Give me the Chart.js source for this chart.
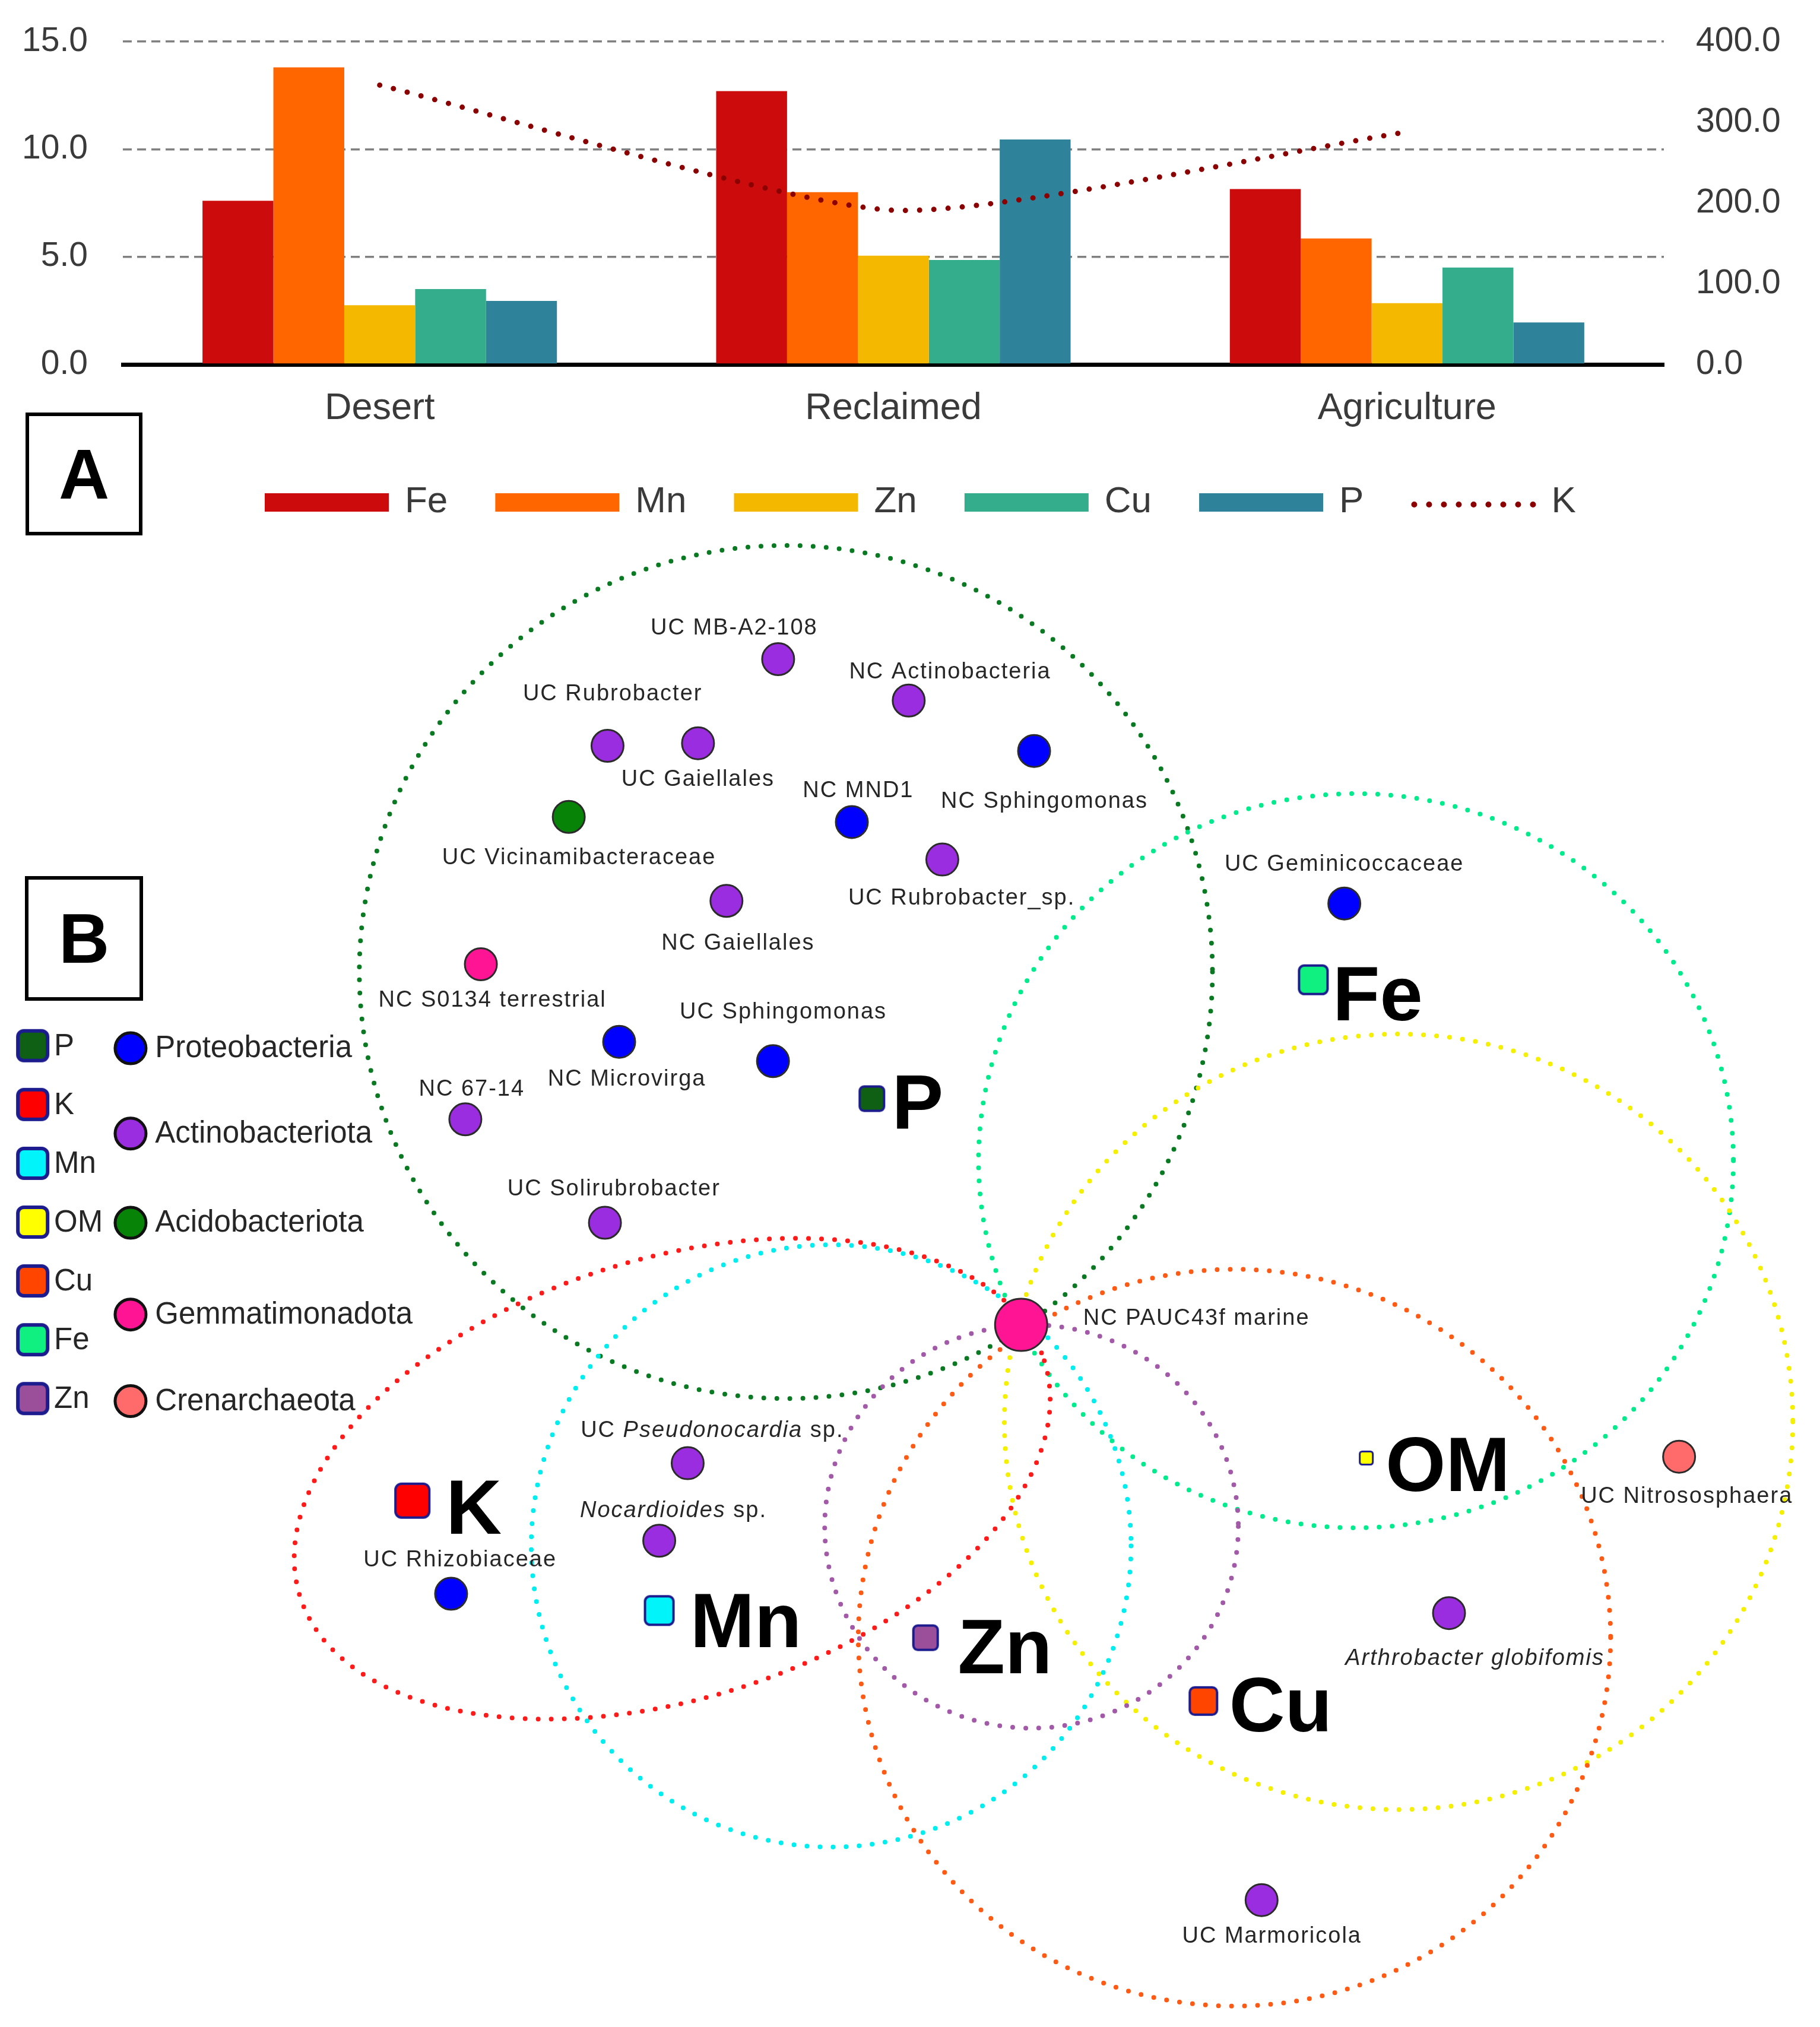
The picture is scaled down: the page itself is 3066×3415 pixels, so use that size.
<!DOCTYPE html>
<html>
<head>
<meta charset="utf-8">
<script src="https://cdn.jsdelivr.net/npm/chart.js@4.4.0/dist/chart.umd.min.js"></script>
<style>
html,body{margin:0;padding:0;background:#fff;}
#wrap{position:relative;width:3066px;height:3415px;overflow:hidden;background:#fff;}
#cA{position:absolute;left:0;top:0;}
#cB{position:absolute;left:0;top:900px;}
.box{position:absolute;border:6px solid #000;box-sizing:border-box;font:bold 118px "Liberation Sans",Arial,sans-serif;display:flex;align-items:center;justify-content:center;color:#000;background:#fff;}
</style>
</head>
<body>
<div id="wrap">
<canvas id="cA" width="3066" height="900"></canvas>
<canvas id="cB" width="3066" height="2515"></canvas>
<div class="box" style="left:43px;top:695px;width:197px;height:207px;">A</div>
<div class="box" style="left:42px;top:1476px;width:199px;height:210px;">B</div>
</div>
<script>
const FONT = '"Liberation Sans", Arial, sans-serif';

// ================= Panel A data =================
const categories = ['Desert', 'Reclaimed', 'Agriculture'];
const feValues = [7.6, 12.7, 8.15];
const mnValues = [13.8, 8.0, 5.85];
const znValues = [2.75, 5.05, 2.85];
const cuValues = [3.5, 4.85, 4.5];
const pValues  = [2.95, 10.45, 1.95];
const kValues  = [346, 191, 288];
const leftTickValues  = [0, 5, 10, 15];
const rightTickValues = [0, 100, 200, 300, 400];

// ================= Panel B data =================
const taxaNames = [
  'UC MB-A2-108', 'NC Actinobacteria', 'UC Rubrobacter', 'UC Gaiellales',
  'NC Sphingomonas', 'NC MND1', 'UC Vicinamibacteraceae', 'UC Rubrobacter_sp.',
  'NC Gaiellales', 'NC S0134 terrestrial', 'UC Sphingomonas', 'NC Microvirga',
  'NC 67-14', 'UC Solirubrobacter', 'UC Geminicoccaceae', 'NC PAUC43f marine',
  'UC *Pseudonocardia* sp.', '*Nocardioides* sp.', 'UC Rhizobiaceae', 'UC Nitrososphaera',
  '*Arthrobacter globifomis*', 'UC Marmoricola'
];
const taxaPhylum = [
  'Actinobacteriota', 'Actinobacteriota', 'Actinobacteriota', 'Actinobacteriota',
  'Proteobacteria', 'Proteobacteria', 'Acidobacteriota', 'Actinobacteriota',
  'Actinobacteriota', 'Gemmatimonadota', 'Proteobacteria', 'Proteobacteria',
  'Actinobacteriota', 'Actinobacteriota', 'Proteobacteria', 'Gemmatimonadota',
  'Actinobacteriota', 'Actinobacteriota', 'Proteobacteria', 'Crenarchaeota',
  'Actinobacteriota', 'Actinobacteriota'
];
const taxaX = [602, 703, 470, 540, 800, 659, 440, 729, 562, 372, 598, 479, 360, 468, 1040, 790, 532, 510, 349, 1299, 1121, 976];
const taxaY = [510, 542, 577, 575, 581, 636, 632, 665, 697, 746, 821, 806, 866, 946, 699, 1025, 1132, 1192, 1233, 1127, 1248, 1470];
const taxaLabelX = [568, 735, 474, 540, 808, 664, 448, 744, 571, 381, 606, 485, 365, 475, 1040, 838, 551, 521, 356, 1305, 1141, 984];
const taxaLabelY = [486, 520, 537, 603, 620, 612, 664, 695, 730, 774, 783, 835, 843, 920, 669, 1020, 1107, 1169, 1207, 1158, 1283, 1498];
const hubNode = 'NC PAUC43f marine';

const elementNames = ['P', 'Fe', 'OM', 'K', 'Mn', 'Zn', 'Cu'];
const elementX = [674.5, 1016, 1057, 319, 510, 716, 931];
const elementY = [850, 758, 1128, 1161, 1246, 1267, 1316];
const elementLabelX = [690, 1031, 1072, 345, 534, 741, 951];
const elementLabelY = [852, 768, 1132, 1165, 1253, 1273, 1318];

// correlation groups (dotted ellipses)
const ellipseElement = ['P', 'Fe', 'OM', 'Cu', 'Zn', 'Mn', 'K'];
const ellipseCX  = [608, 1049, 1082, 955, 798, 643, 520];
const ellipseCY  = [752, 898, 1100, 1267, 1181, 1196, 1144];
const ellipseRX  = [330, 292, 305, 291, 160, 232, 302];
const ellipseRY  = [330, 284, 300, 285, 156, 233, 170];
const ellipseRot = [0, 0, 0, 0, 0, 0, -17.6];

const legendElementOrder = ['P', 'K', 'Mn', 'OM', 'Cu', 'Fe', 'Zn'];
const legendPhylumOrder = ['Proteobacteria', 'Actinobacteriota', 'Acidobacteriota', 'Gemmatimonadota', 'Crenarchaeota'];

// ================= Styles =================
const barColors = { Fe: '#cc0c0c', Mn: '#ff6600', Zn: '#f5b800', Cu: '#33ad8c', P: '#2e839a', K: '#8b0000' };
const phylumColors = {
  Proteobacteria: '#0000ff', Actinobacteriota: '#9b2de0', Acidobacteriota: '#078407',
  Gemmatimonadota: '#ff1493', Crenarchaeota: '#ff6a6a'
};
const elementColors = { P: '#0f5f14', K: '#ff0000', Mn: '#00f4fa', OM: '#ffff00', Cu: '#ff4500', Fe: '#10f080', Zn: '#9b4f9b' };
const ellipseColors = { P: '#0a7a22', Fe: '#00ec8c', OM: '#f5ef00', Cu: '#ff5a14', Zn: '#a25aa8', Mn: '#00eef0', K: '#ff1a1a' };
const elementNodeSize = { P: 41, Fe: 48, OM: 22, K: 57, Mn: 48, Zn: 41, Cu: 46 };
const SQ_BORDER = '#1c1c8e';

// ================= Panel A chart =================
const legendA = {
  id: 'legendA',
  afterDraw(chart) {
    const ctx = chart.ctx;
    ctx.save();
    ctx.font = '62px ' + FONT;
    ctx.textBaseline = 'middle';
    ctx.textAlign = 'left';
    let x = 446;
    const yc = 846;
    const items = chart.data.datasets.slice().sort((a, b) => a.legendIndex - b.legendIndex);
    items.forEach(ds => {
      if (ds.type === 'line') {
        ctx.save();
        ctx.strokeStyle = ds.borderColor;
        ctx.lineWidth = 10;
        ctx.lineCap = 'round';
        ctx.setLineDash([0, 25]);
        ctx.beginPath();
        ctx.moveTo(x + 5, yc + 4);
        ctx.lineTo(x + 206, yc + 4);
        ctx.stroke();
        ctx.restore();
      } else {
        ctx.fillStyle = ds.backgroundColor;
        ctx.fillRect(x, yc - 15, 209, 31);
      }
      x += 209 + 27;
      ctx.fillStyle = '#3a3a3a';
      ctx.fillText(ds.label, x, yc);
      x += ctx.measureText(ds.label).width + 80;
    });
    ctx.restore();
  }
};

const valueTickFont = { family: FONT, size: 57 };
const catTickFont = { family: FONT, size: 63 };
const CLEAR = 'rgba(0,0,0,0)';
new Chart(document.getElementById('cA'), {
  type: 'bar',
  data: {
    labels: categories,
    datasets: [
      { label: 'Fe', data: feValues, backgroundColor: barColors.Fe, yAxisID: 'y', order: 1, legendIndex: 0 },
      { label: 'Mn', data: mnValues, backgroundColor: barColors.Mn, yAxisID: 'y', order: 1, legendIndex: 1 },
      { label: 'Zn', data: znValues, backgroundColor: barColors.Zn, yAxisID: 'y', order: 1, legendIndex: 2 },
      { label: 'Cu', data: cuValues, backgroundColor: barColors.Cu, yAxisID: 'y', order: 1, legendIndex: 3 },
      { label: 'P',  data: pValues,  backgroundColor: barColors.P,  yAxisID: 'y', order: 1, legendIndex: 4 },
      { label: 'K', type: 'line', data: kValues, yAxisID: 'y1', order: -1, legendIndex: 5,
        borderColor: barColors.K, backgroundColor: barColors.K, borderWidth: 9,
        borderDash: [0, 24], borderCapStyle: 'round', tension: 0.2, pointRadius: 0, fill: false }
    ]
  },
  options: {
    responsive: false,
    animation: false,
    devicePixelRatio: 1,
    layout: { padding: { top: 70, left: 0, right: 0, bottom: 0 }, autoPadding: false },
    datasets: { bar: { categoryPercentage: 0.69, barPercentage: 1.0, borderWidth: 0 } },
    plugins: { legend: { display: false }, tooltip: { enabled: false } },
    scales: {
      x: {
        grid: { display: false, drawTicks: false },
        border: { display: true, color: '#000', width: 7 },
        ticks: { font: catTickFont, color: '#3a3a3a', padding: 37 },
        afterFit(s) { s.height = 286; }
      },
      y: {
        position: 'left', min: 0, max: 15,
        afterBuildTicks(s) { s.ticks = leftTickValues.map(v => ({ value: v })); },
        ticks: { font: valueTickFont, color: '#3a3a3a', padding: 0, callback: v => Number(v).toFixed(1) },
        grid: { color: c => (c.tick && c.tick.value === 0) ? CLEAR : '#808080', lineWidth: 3.5,
                drawTicks: true, tickLength: 59, tickColor: CLEAR },
        border: { display: false, dash: [15, 9] },
        afterFit(s) { s.width = 207; }
      },
      y1: {
        position: 'right', min: 0, max: 400,
        afterBuildTicks(s) { s.ticks = rightTickValues.map(v => ({ value: v })); },
        ticks: { font: valueTickFont, color: '#3a3a3a', padding: 0, callback: v => Number(v).toFixed(1) },
        grid: { display: true, drawOnChartArea: false, color: CLEAR, drawTicks: true, tickLength: 54, tickColor: CLEAR },
        border: { display: false },
        afterFit(s) { s.width = 263; }
      }
    }
  },
  plugins: [legendA]
});

// ================= Panel B chart =================
function roundedSquare(size, fill, stroke, lw, rad) {
  const c = document.createElement('canvas');
  const s = Math.ceil(size + lw + 2);
  c.width = s; c.height = s;
  const g = c.getContext('2d');
  const o = (s - size) / 2;
  g.beginPath();
  g.moveTo(o + rad, o);
  g.lineTo(o + size - rad, o);
  g.arcTo(o + size, o, o + size, o + rad, rad);
  g.lineTo(o + size, o + size - rad);
  g.arcTo(o + size, o + size, o + size - rad, o + size, rad);
  g.lineTo(o + rad, o + size);
  g.arcTo(o, o + size, o, o + size - rad, rad);
  g.lineTo(o, o + rad);
  g.arcTo(o, o, o + rad, o, rad);
  g.closePath();
  g.fillStyle = fill; g.fill();
  g.lineWidth = lw; g.strokeStyle = stroke; g.stroke();
  return c;
}

const elementSquares = elementNames.map(e => {
  const sz = elementNodeSize[e];
  return roundedSquare(sz, elementColors[e], SQ_BORDER, e === 'OM' ? 3 : 4, Math.max(3, sz * 0.18));
});
const legendSquares = legendElementOrder.map(e => roundedSquare(50, elementColors[e], SQ_BORDER, 6, 10));

// legend layout (panel B, in chart units)
const legendSquareX = 25.3, legendSquareY0 = 809, legendSquareStep = 45.5;
const legendCircleX = 101;
const legendCircleY = [811, 877, 946, 1017, 1084];

const datasetsB = [];
legendPhylumOrder.forEach(ph => {
  const pts = [];
  taxaNames.forEach((n, i) => { if (taxaPhylum[i] === ph) pts.push({ x: taxaX[i], y: taxaY[i], name: n }); });
  datasetsB.push({
    label: ph, data: pts, pointStyle: 'circle',
    pointRadius: c => (c.raw && c.raw.name === hubNode) ? 44 : 27,
    backgroundColor: phylumColors[ph], borderColor: '#2b2b2b', pointBorderWidth: 3, clip: false
  });
});
datasetsB.push({
  label: 'elements',
  data: elementNames.map((e, i) => ({ x: elementX[i], y: elementY[i] })),
  pointStyle: c => elementSquares[c.dataIndex], pointRadius: 20, clip: false
});
datasetsB.push({
  label: 'legendElements',
  data: legendElementOrder.map((e, i) => ({ x: legendSquareX, y: legendSquareY0 + i * legendSquareStep })),
  pointStyle: c => legendSquares[c.dataIndex], pointRadius: 20, clip: false
});
datasetsB.push({
  label: 'legendPhyla',
  data: legendPhylumOrder.map((p, i) => ({ x: legendCircleX, y: legendCircleY[i] })),
  pointStyle: 'circle', pointRadius: 26,
  backgroundColor: legendPhylumOrder.map(p => phylumColors[p]),
  borderColor: '#111', pointBorderWidth: 5, clip: false
});

function drawRich(ctx, text, x, y, align, size) {
  const parts = text.split('*').map((t, i) => ({ t, it: i % 2 === 1 })).filter(p => p.t.length);
  let total = 0;
  parts.forEach(p => { ctx.font = (p.it ? 'italic ' : '') + size + 'px ' + FONT; p.w = ctx.measureText(p.t).width; total += p.w; });
  let cx = align === 'center' ? x - total / 2 : x;
  ctx.textAlign = 'left';
  parts.forEach(p => { ctx.font = (p.it ? 'italic ' : '') + size + 'px ' + FONT; ctx.fillText(p.t, cx, y); cx += p.w; });
}

const networkPlugin = {
  id: 'network',
  beforeDatasetsDraw(chart) {
    const ctx = chart.ctx, xs = chart.scales.x, ys = chart.scales.y;
    ctx.save();
    ctx.lineCap = 'round';
    ctx.setLineDash([0, 22]);
    ctx.lineWidth = 8;
    ellipseElement.forEach((e, i) => {
      const cx = xs.getPixelForValue(ellipseCX[i]);
      const cy = ys.getPixelForValue(ellipseCY[i]);
      const rx = Math.abs(xs.getPixelForValue(ellipseCX[i] + ellipseRX[i]) - cx);
      const ry = Math.abs(ys.getPixelForValue(ellipseCY[i] + ellipseRY[i]) - cy);
      ctx.strokeStyle = ellipseColors[e];
      ctx.beginPath();
      ctx.ellipse(cx, cy, rx, ry, ellipseRot[i] * Math.PI / 180, 0, Math.PI * 2);
      ctx.stroke();
    });
    ctx.restore();
  },
  afterDatasetsDraw(chart) {
    const ctx = chart.ctx, xs = chart.scales.x, ys = chart.scales.y;
    ctx.save();
    // taxa labels
    ctx.fillStyle = '#262626';
    ctx.textBaseline = 'middle';
    try { ctx.letterSpacing = '2px'; } catch (e) {}
    taxaNames.forEach((n, i) => {
      drawRich(ctx, n, xs.getPixelForValue(taxaLabelX[i]), ys.getPixelForValue(taxaLabelY[i]),
        n === hubNode ? 'left' : 'center', 38);
    });
    try { ctx.letterSpacing = '0px'; } catch (e) {}
    // element labels
    ctx.fillStyle = '#000';
    ctx.textBaseline = 'alphabetic';
    ctx.textAlign = 'left';
    ctx.font = 'bold 130px ' + FONT;
    elementNames.forEach((e, i) => {
      ctx.fillText(e, xs.getPixelForValue(elementLabelX[i]), ys.getPixelForValue(elementLabelY[i]) + 0.358 * 130);
    });
    // legend labels
    ctx.font = '51px ' + FONT;
    ctx.fillStyle = '#262626';
    ctx.textBaseline = 'middle';
    legendElementOrder.forEach((e, i) => {
      ctx.fillText(e, xs.getPixelForValue(legendSquareX + 16.5), ys.getPixelForValue(legendSquareY0 + i * legendSquareStep) + 2);
    });
    legendPhylumOrder.forEach((p, i) => {
      ctx.fillText(p, xs.getPixelForValue(legendCircleX + 19), ys.getPixelForValue(legendCircleY[i]) + 1);
    });
    ctx.restore();
  }
};

new Chart(document.getElementById('cB'), {
  type: 'scatter',
  data: { datasets: datasetsB },
  options: {
    responsive: false,
    animation: false,
    devicePixelRatio: 1,
    layout: { padding: 0, autoPadding: false },
    plugins: { legend: { display: false }, tooltip: { enabled: false } },
    scales: {
      x: { type: 'linear', min: 0, max: 1408, display: false },
      y: { type: 'linear', min: 413.3, max: 1568.2, reverse: true, display: false }
    }
  },
  plugins: [networkPlugin]
});
</script>
</body>
</html>
